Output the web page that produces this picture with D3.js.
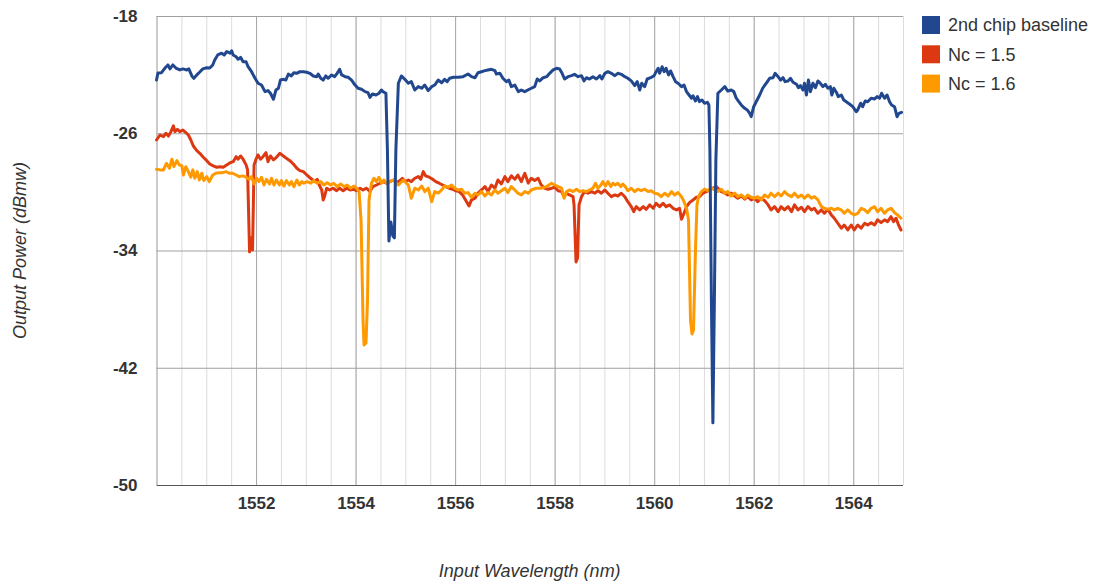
<!DOCTYPE html>
<html>
<head>
<meta charset="utf-8">
<script src="https://cdn.jsdelivr.net/npm/d3@7/dist/d3.min.js"></script>
<style>
  html, body { margin: 0; padding: 0; background: #ffffff; }
  svg { display: block; font-family: Arial, "Liberation Sans", sans-serif; }
</style>
</head>
<body>
<svg id="chart" width="1096" height="586"></svg>
<script>
// Wavelength sweep, [wavelength (nm), output power (dBmw)]
const baseline2ndChip = [
  [1550.00,-22.37],[1550.03,-21.89],[1550.10,-21.87],[1550.17,-21.55],[1550.23,-21.34],[1550.27,-21.61],[1550.33,-21.34],[1550.39,-21.55],
  [1550.47,-21.68],[1550.53,-21.61],[1550.61,-21.68],[1550.65,-21.61],[1550.71,-22.09],[1550.75,-22.25],[1550.81,-22.02],[1550.87,-21.82],
  [1550.93,-21.61],[1551.01,-21.53],[1551.07,-21.55],[1551.13,-21.34],[1551.17,-21.00],[1551.23,-20.66],[1551.31,-20.54],[1551.36,-20.66],
  [1551.41,-20.43],[1551.48,-20.54],[1551.51,-20.37],[1551.54,-20.66],[1551.60,-20.78],[1551.64,-20.95],[1551.69,-20.82],[1551.74,-21.12],
  [1551.80,-21.12],[1551.84,-21.46],[1551.91,-21.80],[1551.98,-22.25],[1552.04,-22.59],[1552.11,-22.71],[1552.18,-23.16],[1552.24,-23.09],
  [1552.29,-23.27],[1552.35,-23.68],[1552.40,-23.05],[1552.45,-22.93],[1552.49,-22.37],[1552.55,-22.32],[1552.60,-22.37],[1552.65,-21.96],
  [1552.71,-22.09],[1552.76,-21.87],[1552.82,-21.91],[1552.88,-21.80],[1552.95,-21.80],[1553.02,-21.84],[1553.08,-21.91],[1553.15,-22.09],
  [1553.22,-22.14],[1553.25,-21.96],[1553.30,-22.25],[1553.35,-22.37],[1553.40,-22.09],[1553.45,-22.25],[1553.52,-22.02],[1553.58,-22.14],
  [1553.63,-21.91],[1553.68,-21.64],[1553.72,-22.02],[1553.79,-22.14],[1553.85,-22.18],[1553.92,-22.37],[1553.99,-22.71],[1554.05,-22.93],
  [1554.12,-23.00],[1554.19,-23.16],[1554.25,-23.23],[1554.29,-23.55],[1554.34,-23.32],[1554.41,-23.39],[1554.47,-23.27],[1554.52,-23.05],
  [1554.55,-23.16],[1554.61,-23.27],[1554.64,-27.14],[1554.67,-33.35],[1554.71,-32.05],[1554.75,-33.01],[1554.78,-33.14],[1554.81,-27.14],
  [1554.86,-22.59],[1554.92,-22.09],[1554.99,-22.32],[1555.06,-22.59],[1555.12,-22.48],[1555.19,-23.05],[1555.26,-22.82],[1555.33,-22.93],
  [1555.39,-22.71],[1555.46,-23.09],[1555.53,-22.82],[1555.59,-22.71],[1555.66,-22.37],[1555.73,-22.55],[1555.79,-22.32],[1555.84,-22.48],
  [1555.89,-22.25],[1555.97,-22.18],[1556.06,-22.18],[1556.16,-22.14],[1556.26,-21.96],[1556.33,-22.14],[1556.40,-22.21],[1556.46,-21.87],
  [1556.53,-21.80],[1556.60,-21.73],[1556.66,-21.68],[1556.73,-21.64],[1556.80,-21.73],[1556.83,-21.96],[1556.90,-21.91],[1556.96,-22.25],
  [1557.03,-22.48],[1557.08,-22.37],[1557.13,-22.82],[1557.20,-22.71],[1557.27,-23.16],[1557.33,-23.05],[1557.40,-23.16],[1557.50,-22.98],
  [1557.60,-22.82],[1557.65,-22.30],[1557.70,-22.43],[1557.77,-22.21],[1557.84,-22.14],[1557.90,-21.91],[1557.97,-21.68],[1558.04,-21.57],
  [1558.10,-21.62],[1558.15,-21.91],[1558.20,-22.30],[1558.27,-22.14],[1558.34,-22.07],[1558.40,-21.98],[1558.47,-22.14],[1558.54,-22.07],
  [1558.59,-22.43],[1558.64,-22.21],[1558.70,-22.30],[1558.77,-22.14],[1558.84,-22.30],[1558.91,-22.07],[1558.95,-22.30],[1559.01,-21.91],
  [1559.07,-21.80],[1559.14,-21.91],[1559.21,-22.07],[1559.27,-21.91],[1559.34,-21.98],[1559.41,-22.14],[1559.47,-22.25],[1559.54,-22.43],
  [1559.61,-22.75],[1559.66,-22.48],[1559.71,-23.05],[1559.75,-22.59],[1559.81,-22.82],[1559.86,-22.30],[1559.93,-22.21],[1560.00,-22.07],
  [1560.04,-21.80],[1560.08,-21.57],[1560.11,-21.91],[1560.16,-21.46],[1560.20,-21.80],[1560.24,-21.57],[1560.29,-22.02],[1560.33,-21.75],
  [1560.38,-22.14],[1560.43,-22.48],[1560.48,-22.59],[1560.55,-22.82],[1560.60,-22.71],[1560.65,-23.16],[1560.69,-23.34],[1560.75,-23.61],
  [1560.78,-23.44],[1560.83,-23.80],[1560.87,-23.50],[1560.91,-23.84],[1560.96,-23.73],[1561.01,-23.95],[1561.07,-23.89],[1561.10,-24.07],
  [1561.12,-27.14],[1561.15,-37.37],[1561.18,-45.76],[1561.21,-37.37],[1561.24,-27.82],[1561.28,-23.27],[1561.35,-23.05],[1561.42,-22.82],
  [1561.48,-23.12],[1561.55,-23.05],[1561.60,-23.16],[1561.65,-23.61],[1561.70,-23.84],[1561.75,-24.07],[1561.82,-24.30],[1561.87,-24.41],
  [1561.92,-24.64],[1561.95,-24.87],[1562.00,-24.19],[1562.05,-23.85],[1562.12,-23.39],[1562.18,-22.93],[1562.25,-22.59],[1562.32,-22.25],
  [1562.39,-22.21],[1562.43,-21.91],[1562.49,-22.14],[1562.54,-22.37],[1562.59,-22.21],[1562.63,-22.48],[1562.69,-22.43],[1562.74,-22.25],
  [1562.79,-22.52],[1562.86,-22.66],[1562.90,-22.89],[1562.94,-22.75],[1562.99,-23.05],[1563.02,-22.59],[1563.06,-23.39],[1563.10,-22.37],
  [1563.14,-23.16],[1563.19,-22.59],[1563.24,-22.89],[1563.29,-22.43],[1563.34,-22.59],[1563.39,-22.82],[1563.44,-22.66],[1563.49,-22.93],
  [1563.54,-22.82],[1563.57,-23.39],[1563.61,-22.93],[1563.66,-23.20],[1563.70,-23.50],[1563.76,-23.39],[1563.81,-23.73],[1563.86,-23.85],
  [1563.93,-24.02],[1563.99,-24.19],[1564.06,-24.53],[1564.09,-24.41],[1564.15,-23.95],[1564.19,-24.19],[1564.24,-23.80],[1564.29,-23.85],
  [1564.36,-23.61],[1564.43,-23.66],[1564.48,-23.50],[1564.53,-23.61],[1564.57,-23.27],[1564.63,-23.61],[1564.68,-23.39],[1564.73,-23.85],
  [1564.77,-24.07],[1564.83,-24.19],[1564.88,-24.87],[1564.92,-24.64],[1564.97,-24.57]
];

const nc15 = [
  [1550.00,-26.46],[1550.07,-26.12],[1550.14,-26.23],[1550.19,-26.00],[1550.24,-26.19],[1550.29,-25.89],[1550.34,-25.50],[1550.37,-25.89],
  [1550.42,-25.73],[1550.47,-25.89],[1550.53,-25.78],[1550.59,-25.96],[1550.64,-26.12],[1550.69,-26.46],[1550.74,-26.87],[1550.81,-27.19],
  [1550.87,-27.37],[1550.94,-27.64],[1551.01,-27.87],[1551.07,-28.10],[1551.14,-28.23],[1551.21,-28.32],[1551.28,-28.28],[1551.34,-28.32],
  [1551.41,-28.16],[1551.48,-28.01],[1551.54,-27.94],[1551.60,-27.60],[1551.64,-27.77],[1551.69,-27.55],[1551.74,-27.77],[1551.80,-28.16],
  [1551.83,-28.50],[1551.87,-34.10],[1551.90,-33.14],[1551.93,-33.96],[1551.96,-28.16],[1552.00,-27.77],[1552.04,-27.48],[1552.09,-27.77],
  [1552.14,-27.60],[1552.20,-27.32],[1552.24,-27.94],[1552.29,-27.55],[1552.35,-27.82],[1552.41,-27.64],[1552.48,-27.37],[1552.55,-27.55],
  [1552.61,-27.71],[1552.68,-27.87],[1552.75,-28.10],[1552.82,-28.39],[1552.88,-28.55],[1552.95,-28.62],[1553.00,-28.78],[1553.07,-29.00],
  [1553.14,-29.19],[1553.18,-29.30],[1553.23,-29.14],[1553.27,-29.53],[1553.32,-29.87],[1553.35,-30.55],[1553.38,-30.28],[1553.42,-29.75],
  [1553.48,-29.87],[1553.55,-29.75],[1553.62,-29.92],[1553.68,-29.75],[1553.75,-29.92],[1553.82,-29.75],[1553.89,-29.87],[1553.95,-29.82],
  [1554.02,-29.92],[1554.09,-29.75],[1554.15,-29.87],[1554.22,-29.75],[1554.29,-29.98],[1554.35,-29.64],[1554.42,-29.53],[1554.49,-29.41],
  [1554.55,-29.30],[1554.62,-29.41],[1554.69,-29.30],[1554.76,-29.19],[1554.82,-29.37],[1554.89,-29.23],[1554.94,-29.07],[1554.99,-29.30],
  [1555.06,-29.19],[1555.12,-29.30],[1555.19,-29.07],[1555.26,-28.96],[1555.31,-29.14],[1555.36,-28.62],[1555.41,-28.91],[1555.48,-29.00],
  [1555.55,-29.14],[1555.61,-29.30],[1555.68,-29.41],[1555.75,-29.53],[1555.81,-29.64],[1555.88,-29.75],[1555.95,-29.82],[1556.01,-29.92],
  [1556.08,-29.98],[1556.15,-30.21],[1556.21,-30.55],[1556.28,-30.96],[1556.33,-30.55],[1556.40,-30.43],[1556.46,-30.09],[1556.53,-29.87],
  [1556.60,-29.64],[1556.66,-29.98],[1556.73,-29.53],[1556.80,-29.75],[1556.86,-29.19],[1556.93,-29.46],[1557.00,-28.96],[1557.06,-29.30],
  [1557.13,-28.91],[1557.20,-29.14],[1557.26,-28.85],[1557.33,-29.30],[1557.40,-28.73],[1557.47,-29.40],[1557.53,-29.07],[1557.60,-29.23],
  [1557.67,-29.07],[1557.73,-29.53],[1557.80,-29.75],[1557.87,-29.82],[1557.94,-29.75],[1558.00,-29.68],[1558.07,-29.92],[1558.14,-29.98],
  [1558.19,-30.33],[1558.24,-30.09],[1558.30,-30.21],[1558.37,-30.33],[1558.39,-30.89],[1558.43,-34.78],[1558.46,-34.51],[1558.49,-30.89],
  [1558.54,-30.33],[1558.60,-29.98],[1558.67,-30.09],[1558.74,-29.98],[1558.81,-30.09],[1558.87,-29.92],[1558.94,-30.09],[1559.01,-29.87],
  [1559.07,-30.09],[1559.14,-30.33],[1559.21,-30.21],[1559.27,-30.28],[1559.34,-30.09],[1559.41,-30.33],[1559.47,-30.67],[1559.54,-31.01],
  [1559.59,-31.35],[1559.64,-31.01],[1559.71,-31.23],[1559.78,-31.01],[1559.84,-31.19],[1559.91,-30.89],[1559.98,-31.12],[1560.04,-30.78],
  [1560.11,-31.01],[1560.18,-30.78],[1560.24,-31.01],[1560.31,-30.89],[1560.38,-31.12],[1560.45,-31.23],[1560.51,-31.12],[1560.55,-31.87],
  [1560.60,-31.46],[1560.65,-31.01],[1560.71,-30.73],[1560.78,-30.55],[1560.85,-30.37],[1560.91,-30.33],[1560.98,-30.09],[1561.05,-29.98],
  [1561.11,-29.87],[1561.18,-29.75],[1561.25,-29.64],[1561.30,-29.82],[1561.35,-29.98],[1561.42,-30.09],[1561.48,-30.21],[1561.55,-30.09],
  [1561.62,-30.28],[1561.68,-30.43],[1561.75,-30.28],[1561.82,-30.50],[1561.88,-30.33],[1561.95,-30.55],[1562.02,-30.43],[1562.08,-30.67],
  [1562.15,-30.43],[1562.22,-30.60],[1562.29,-30.89],[1562.35,-31.23],[1562.42,-31.01],[1562.49,-31.35],[1562.55,-31.01],[1562.62,-31.23],
  [1562.69,-31.01],[1562.76,-31.35],[1562.82,-30.89],[1562.89,-31.23],[1562.96,-31.05],[1563.02,-31.35],[1563.09,-31.01],[1563.16,-31.23],
  [1563.22,-31.12],[1563.29,-31.46],[1563.36,-31.23],[1563.42,-31.46],[1563.49,-31.19],[1563.56,-31.57],[1563.62,-31.80],[1563.69,-32.14],
  [1563.76,-32.48],[1563.82,-32.26],[1563.89,-32.60],[1563.96,-32.26],[1564.02,-32.60],[1564.09,-32.26],[1564.16,-32.48],[1564.23,-32.14],
  [1564.29,-32.26],[1564.36,-32.10],[1564.43,-32.26],[1564.49,-31.91],[1564.56,-32.10],[1564.63,-31.91],[1564.69,-32.03],[1564.76,-31.69],
  [1564.81,-32.03],[1564.86,-31.80],[1564.91,-32.26],[1564.96,-32.60]
];

const nc16 = [
  [1550.00,-28.46],[1550.07,-28.50],[1550.14,-28.50],[1550.20,-28.05],[1550.26,-28.39],[1550.31,-27.77],[1550.35,-28.28],[1550.41,-27.87],
  [1550.46,-28.16],[1550.51,-28.23],[1550.54,-28.85],[1550.59,-28.28],[1550.64,-28.62],[1550.69,-29.00],[1550.73,-28.50],[1550.77,-29.07],
  [1550.82,-28.62],[1550.86,-29.19],[1550.91,-28.73],[1550.95,-29.23],[1551.01,-28.96],[1551.06,-29.30],[1551.13,-28.85],[1551.19,-28.73],
  [1551.26,-28.69],[1551.33,-28.69],[1551.40,-28.62],[1551.46,-28.73],[1551.53,-28.73],[1551.60,-28.85],[1551.66,-28.96],[1551.73,-28.91],
  [1551.80,-29.00],[1551.86,-29.14],[1551.91,-28.96],[1551.96,-29.46],[1552.01,-29.07],[1552.06,-29.30],[1552.11,-29.00],[1552.16,-29.53],
  [1552.21,-29.14],[1552.27,-29.46],[1552.31,-29.07],[1552.36,-29.53],[1552.41,-29.19],[1552.47,-29.53],[1552.51,-29.23],[1552.56,-29.60],
  [1552.61,-29.23],[1552.67,-29.53],[1552.71,-29.30],[1552.76,-29.64],[1552.82,-29.19],[1552.87,-29.53],[1552.92,-29.30],[1552.96,-29.41],
  [1553.03,-29.30],[1553.10,-29.41],[1553.16,-29.23],[1553.23,-29.41],[1553.30,-29.30],[1553.36,-29.53],[1553.43,-29.37],[1553.50,-29.53],
  [1553.56,-29.41],[1553.63,-29.64],[1553.70,-29.46],[1553.77,-29.64],[1553.83,-29.53],[1553.90,-29.75],[1553.97,-29.60],[1554.02,-29.75],
  [1554.07,-29.98],[1554.11,-31.91],[1554.15,-38.74],[1554.17,-40.44],[1554.21,-40.30],[1554.24,-37.37],[1554.27,-30.55],[1554.32,-29.41],
  [1554.37,-29.07],[1554.42,-29.30],[1554.47,-29.00],[1554.52,-29.41],[1554.57,-29.19],[1554.62,-29.41],[1554.76,-29.19],[1554.86,-29.53],
  [1554.96,-29.19],[1555.06,-29.53],[1555.12,-30.43],[1555.19,-29.75],[1555.26,-29.87],[1555.33,-29.60],[1555.39,-29.98],[1555.46,-29.75],
  [1555.53,-30.67],[1555.59,-29.98],[1555.66,-30.09],[1555.73,-29.87],[1555.79,-29.60],[1555.86,-29.68],[1555.93,-29.53],[1555.99,-29.75],
  [1556.06,-29.87],[1556.13,-29.82],[1556.19,-30.09],[1556.26,-30.05],[1556.33,-30.37],[1556.40,-30.09],[1556.46,-30.21],[1556.53,-29.98],
  [1556.60,-30.28],[1556.66,-30.05],[1556.73,-30.21],[1556.80,-29.87],[1556.86,-30.09],[1556.93,-29.92],[1557.00,-29.75],[1557.06,-30.05],
  [1557.13,-29.64],[1557.20,-29.87],[1557.26,-30.09],[1557.33,-30.21],[1557.40,-29.98],[1557.47,-30.09],[1557.53,-29.87],[1557.63,-29.75],
  [1557.73,-29.75],[1557.84,-29.64],[1557.94,-29.41],[1558.00,-29.53],[1558.07,-29.64],[1558.14,-29.75],[1558.19,-30.43],[1558.24,-29.98],
  [1558.30,-29.87],[1558.37,-29.98],[1558.44,-29.82],[1558.50,-29.98],[1558.57,-29.92],[1558.64,-29.98],[1558.70,-29.87],[1558.77,-29.75],
  [1558.82,-29.41],[1558.87,-29.75],[1558.93,-29.53],[1558.97,-29.30],[1559.02,-29.60],[1559.07,-29.30],[1559.13,-29.64],[1559.17,-29.41],
  [1559.22,-29.53],[1559.27,-29.41],[1559.33,-29.64],[1559.37,-29.46],[1559.42,-29.64],[1559.47,-29.92],[1559.54,-29.75],[1559.61,-29.98],
  [1559.67,-29.82],[1559.74,-29.92],[1559.81,-29.82],[1559.88,-29.98],[1559.94,-29.92],[1560.01,-30.09],[1560.08,-30.14],[1560.14,-30.33],
  [1560.21,-30.09],[1560.28,-30.28],[1560.35,-29.98],[1560.41,-30.21],[1560.48,-30.05],[1560.55,-30.33],[1560.60,-30.67],[1560.65,-31.12],
  [1560.69,-31.91],[1560.73,-38.74],[1560.76,-39.69],[1560.79,-39.42],[1560.83,-33.96],[1560.86,-30.89],[1560.89,-30.33],[1560.95,-29.98],
  [1561.01,-29.82],[1561.08,-29.92],[1561.15,-29.75],[1561.22,-29.87],[1561.28,-29.98],[1561.35,-29.82],[1561.42,-30.09],[1561.48,-29.98],
  [1561.55,-30.28],[1561.62,-30.09],[1561.68,-30.33],[1561.75,-30.21],[1561.82,-30.43],[1561.88,-30.21],[1561.95,-30.37],[1562.02,-30.43],
  [1562.08,-30.33],[1562.15,-30.55],[1562.22,-30.21],[1562.29,-30.37],[1562.35,-30.09],[1562.42,-30.33],[1562.49,-30.09],[1562.55,-30.28],
  [1562.62,-29.98],[1562.69,-30.21],[1562.76,-30.33],[1562.82,-30.09],[1562.89,-30.37],[1562.96,-30.21],[1563.02,-30.43],[1563.09,-30.21],
  [1563.16,-30.43],[1563.22,-30.33],[1563.29,-30.55],[1563.36,-31.01],[1563.42,-31.12],[1563.49,-31.19],[1563.56,-31.12],[1563.62,-31.23],
  [1563.69,-31.12],[1563.76,-31.23],[1563.82,-31.46],[1563.89,-31.23],[1563.96,-31.46],[1564.02,-31.57],[1564.09,-31.46],[1564.16,-31.12],
  [1564.23,-31.23],[1564.29,-31.42],[1564.36,-31.12],[1564.43,-31.01],[1564.49,-31.35],[1564.56,-31.12],[1564.63,-31.46],[1564.69,-31.23],
  [1564.76,-31.12],[1564.83,-31.42],[1564.89,-31.57],[1564.96,-31.80]
];

const seriesNames = ["2nd chip baseline", "Nc = 1.5", "Nc = 1.6"];
const seriesColors = ["#21488f", "#dc3912", "#ff9900"];
const xTickValues = [1552, 1554, 1556, 1558, 1560, 1562, 1564];
const xMinorValues = d3.range(1550, 1565.01, 0.5);
const yTickValues = [-50, -42, -34, -26, -18];

const svg = d3.select("#chart");
const plot = { left: 156.5, right: 903, top: 16, bottom: 485 };

const x = d3.scaleLinear().domain([1550, 1565]).range([plot.left, plot.right]);
const y = d3.scaleLinear().domain([-50, -18]).range([plot.bottom, plot.top]);

// plain hyphen-minus for negative tick values
const plainInt = d => String(d);

// minor vertical gridlines every 0.5 nm
svg.append("g")
  .attr("transform", `translate(0,${plot.bottom})`)
  .call(d3.axisBottom(x).tickValues(xMinorValues).tickSize(-(plot.bottom - plot.top)).tickFormat(""))
  .call(g => g.select(".domain").remove())
  .call(g => g.selectAll("line").attr("stroke", "#dcdcdc").attr("stroke-width", 1));

// major vertical gridlines every 2 nm
svg.append("g")
  .attr("transform", `translate(0,${plot.bottom})`)
  .call(d3.axisBottom(x).tickValues([1550].concat(xTickValues)).tickSize(-(plot.bottom - plot.top)).tickFormat(""))
  .call(g => g.select(".domain").remove())
  .call(g => g.selectAll("line").attr("stroke", "#a8a8a8").attr("stroke-width", 1));

// horizontal gridlines with y tick labels
svg.append("g")
  .attr("transform", `translate(${plot.left},0)`)
  .call(d3.axisLeft(y).tickValues(yTickValues).tickSize(-(plot.right - plot.left)).tickPadding(19).tickFormat(plainInt))
  .call(g => g.select(".domain").remove())
  .call(g => g.selectAll("line").attr("stroke", d => d === -50 ? "#555" : "#a0a0a0").attr("stroke-width", 1))
  .call(g => g.selectAll("text")
    .attr("fill", "#333").attr("font-size", 17).attr("font-weight", "bold")
    .attr("font-family", "Arial, 'Liberation Sans', sans-serif"));

// x tick labels
svg.append("g")
  .attr("transform", `translate(0,${plot.bottom})`)
  .call(d3.axisBottom(x).tickValues(xTickValues).tickSize(0).tickPadding(12).tickFormat(plainInt))
  .call(g => g.select(".domain").remove())
  .call(g => g.selectAll("text")
    .attr("fill", "#333").attr("font-size", 17).attr("font-weight", "bold")
    .attr("font-family", "Arial, 'Liberation Sans', sans-serif"));

// series lines
const line = d3.line().x(d => x(d[0])).y(d => y(d[1]));
const seriesData = [baseline2ndChip, nc15, nc16];
const drawOrder = [1, 2, 0];
drawOrder.forEach(i => {
  svg.append("path")
    .datum(seriesData[i])
    .attr("fill", "none")
    .attr("stroke", seriesColors[i])
    .attr("stroke-width", 3)
    .attr("stroke-linejoin", "round")
    .attr("stroke-linecap", "round")
    .attr("d", line);
});

// legend
const legend = svg.append("g").attr("transform", "translate(922,16)");
seriesNames.forEach((name, i) => {
  const row = legend.append("g").attr("transform", `translate(0,${i * 29.3})`);
  row.append("rect").attr("width", 18).attr("height", 18).attr("fill", seriesColors[i]);
  row.append("text")
    .attr("x", 26).attr("y", 9).attr("dy", "0.35em")
    .attr("font-size", 18).attr("fill", "#333")
    .text(name);
});

// axis titles
svg.append("text")
  .attr("x", (plot.left + plot.right) / 2).attr("y", 577)
  .attr("text-anchor", "middle").attr("font-size", 18).attr("font-style", "italic").attr("fill", "#333")
  .text("Input Wavelength (nm)");

svg.append("text")
  .attr("transform", `translate(26,${(plot.top + plot.bottom) / 2}) rotate(-90)`)
  .attr("text-anchor", "middle").attr("font-size", 18).attr("font-style", "italic").attr("fill", "#333")
  .text("Output Power (dBmw)");
</script>
</body>
</html>
